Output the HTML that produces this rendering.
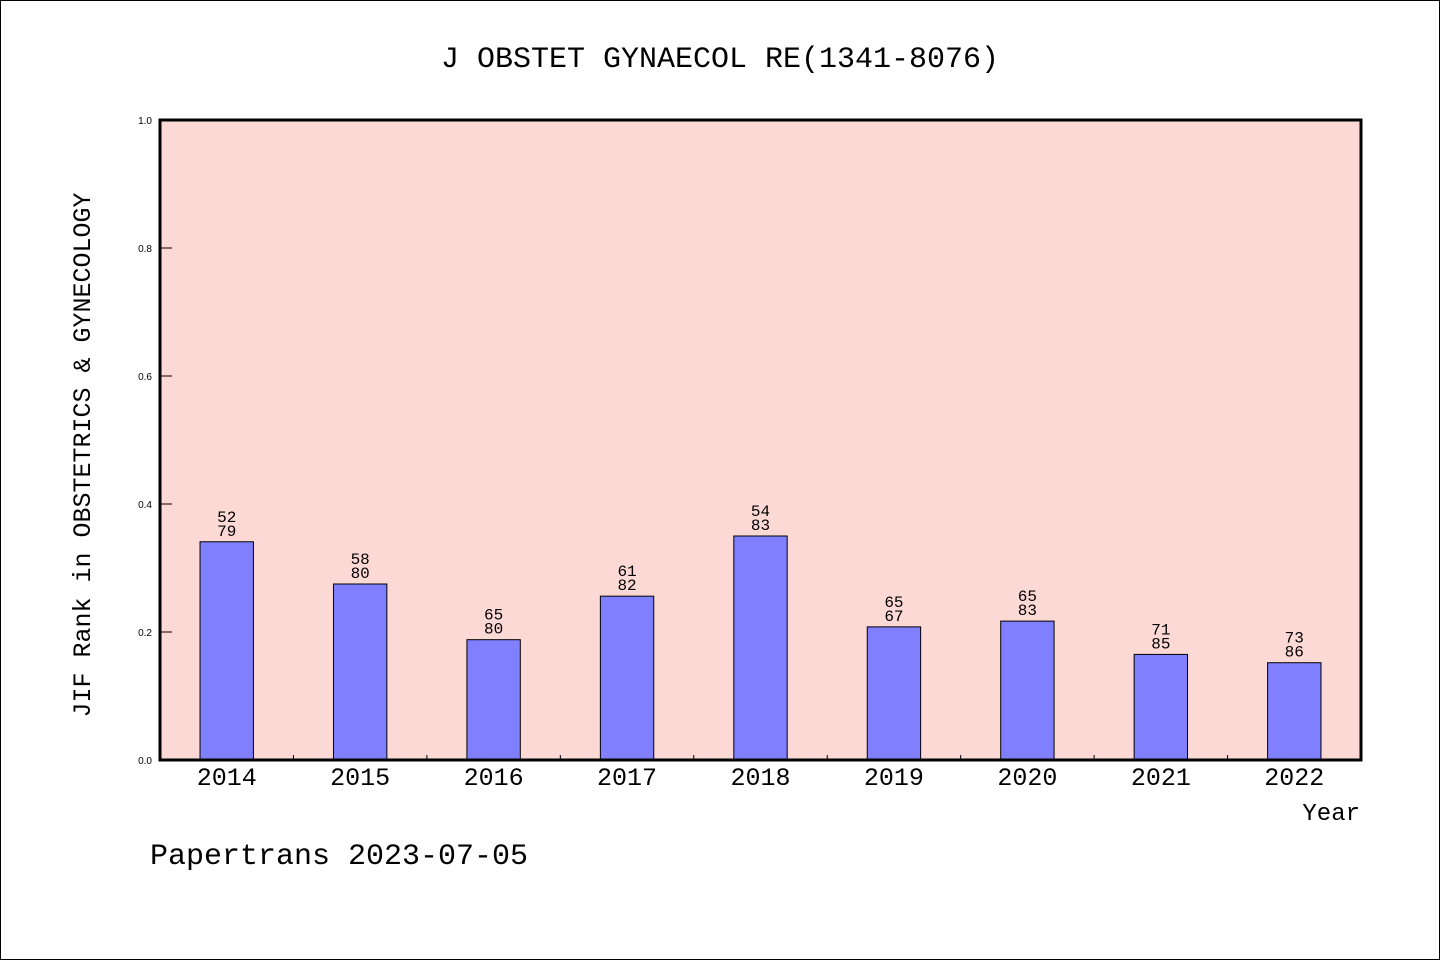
<!DOCTYPE html>
<html><head><meta charset="utf-8"><style>
html,body{margin:0;padding:0;background:#fff}
svg{display:block}
text{font-family:"Liberation Mono","WenQuanYi Zen Hei",monospace;fill:#000}
</style></head><body>
<svg width="1440" height="960">
<rect x="0.5" y="0.5" width="1439" height="959" fill="#fff" stroke="#000"/>
<text x="720" y="67" text-anchor="middle" font-size="30">J OBSTET GYNAECOL RE(1341-8076)</text>
<rect x="160" y="120" width="1201" height="640" fill="#fdd9d6"/>
<g id="g"></g>
<rect x="160" y="120" width="1201" height="640" fill="none" stroke="#000" stroke-width="3"/>
<text transform="translate(90,455) rotate(-90)" text-anchor="middle" font-size="25">JIF Rank in OBSTETRICS &amp; GYNECOLOGY</text>
<text x="1360" y="820" text-anchor="end" font-size="24">Year</text>
<text x="150" y="864" font-size="30">Papertrans 2023-07-05</text>
</svg>
<script>
const years=["2014","2015","2016","2017","2018","2019","2020","2021","2022"];
const values=[0.341,0.275,0.188,0.256,0.350,0.208,0.217,0.165,0.152];
const ranks=[52,58,65,61,54,65,65,71,73];
const totals=[79,80,80,82,83,67,83,85,86];
const yTicks=[0,0.2,0.4,0.6,0.8,1.0];
const X0=160,W=1201,Y0=760,H=640,NS="http://www.w3.org/2000/svg";
const g=document.getElementById('g');
const band=W/years.length;
const xs=i=>X0+band*(i+0.5);
const ys=v=>Y0-v*H;
function mk(t,a){const e=document.createElementNS(NS,t);for(const k in a)e.setAttribute(k,a[k]);g.appendChild(e);return e;}
yTicks.forEach(v=>{
 const l=mk('line',{x1:X0,x2:X0+12,y1:ys(v),y2:ys(v),stroke:'#000'});
 
 
 const t=mk('text',{x:152,y:ys(v)+4,'text-anchor':'end','font-size':10,style:'font-family:"Liberation Sans",sans-serif'});t.textContent=v.toFixed(1);
 
 
});
for(let i=1;i<years.length;i++){
 const l=mk('line',{x1:X0+band*i,x2:X0+band*i,y1:Y0,y2:Y0-5,stroke:'#000'});
 
 
}
years.forEach((y,i)=>{
 const v=values[i];
 const bw=band*0.4,cx=xs(i);
 const r=mk('rect',{x:cx-bw/2,y:ys(v),width:bw,height:Y0-ys(v),fill:'#8080ff',stroke:'#000','stroke-width':1});
 
 
 const top=ys(v);
 const t1=mk('text',{x:cx,y:top-20,'text-anchor':'middle','font-size':16});t1.textContent=ranks[i];
 
 
 const t2=mk('text',{x:cx,y:top-6,'text-anchor':'middle','font-size':16});t2.textContent=totals[i];
 
 
 const xl=mk('text',{x:cx,y:785,'text-anchor':'middle','font-size':25});xl.textContent=y;
 
 
});
</script>
</body></html>
